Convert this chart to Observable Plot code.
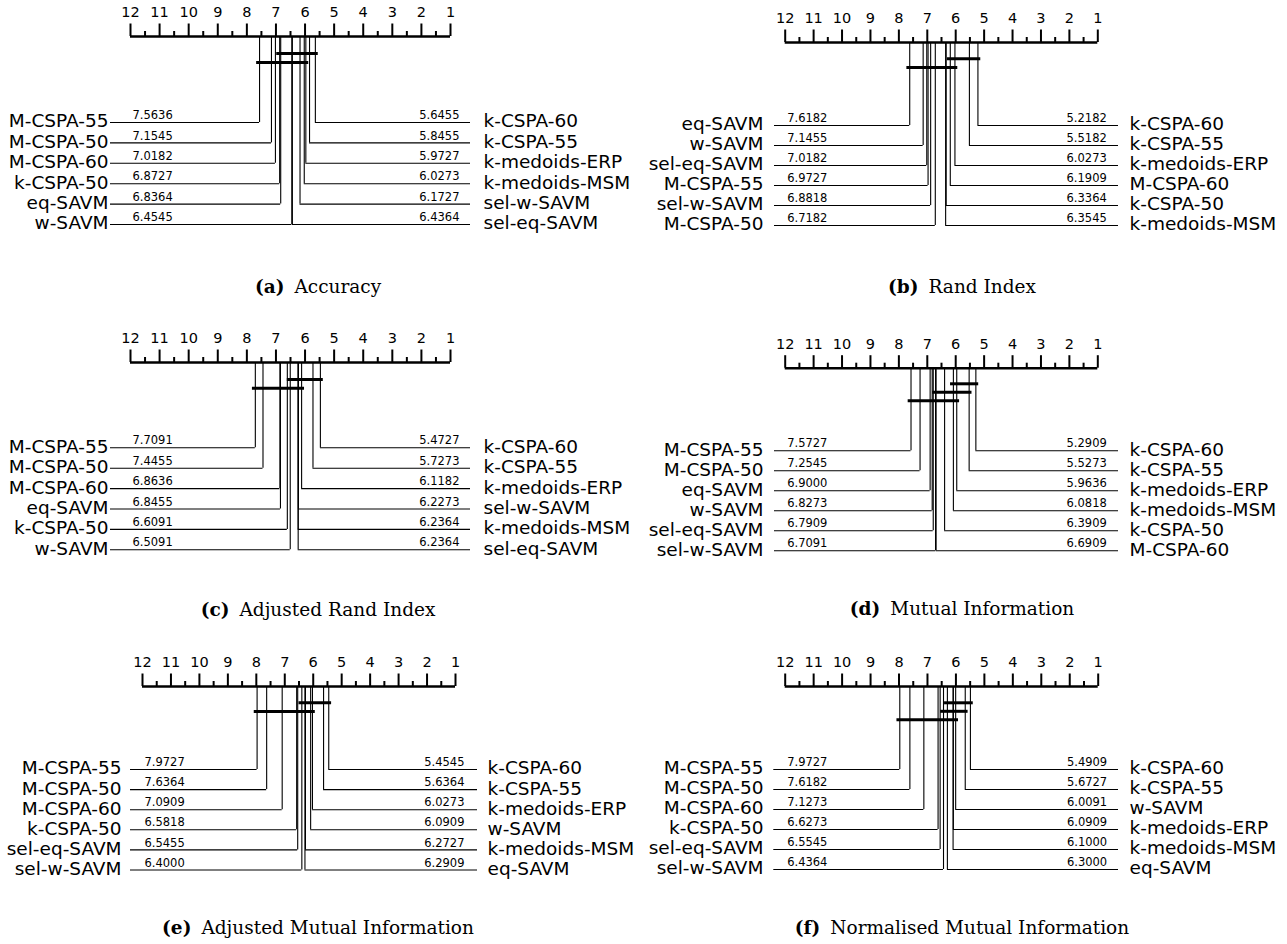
<!DOCTYPE html>
<html><head><meta charset="utf-8">
<script src="https://cdn.jsdelivr.net/npm/d3@7"></script>
<script src="https://cdn.jsdelivr.net/npm/@observablehq/plot@0.6"></script>
<style>
html,body{margin:0;padding:0;background:#fff}
body{width:1287px;height:944px;position:relative;overflow:hidden}
.panel{position:absolute;left:0;top:0}
.cap{position:absolute;font-family:"DejaVu Serif",serif;font-size:18.5px;line-height:22px;transform:translateX(-50%);white-space:nowrap;color:#000}
.cap b{font-weight:bold}
.cap span{margin-left:10px}
</style></head><body>
<script>
// Rank axis tick labels
const tickLabels = [12,11,10,9,8,7,6,5,4,3,2,1];

// (a) Accuracy
const accLeftNames  = ["M-CSPA-55","M-CSPA-50","M-CSPA-60","k-CSPA-50","eq-SAVM","w-SAVM"];
const accLeftRanks  = [7.5636,7.1545,7.0182,6.8727,6.8364,6.4545];
const accRightNames = ["k-CSPA-60","k-CSPA-55","k-medoids-ERP","k-medoids-MSM","sel-w-SAVM","sel-eq-SAVM"];
const accRightRanks = [5.6455,5.8455,5.9727,6.0273,6.1727,6.4364];
const accCliques    = [[5.6455,6.8727],[5.9727,7.5636]];

// (b) Rand Index
const riLeftNames  = ["eq-SAVM","w-SAVM","sel-eq-SAVM","M-CSPA-55","sel-w-SAVM","M-CSPA-50"];
const riLeftRanks  = [7.6182,7.1455,7.0182,6.9727,6.8818,6.7182];
const riRightNames = ["k-CSPA-60","k-CSPA-55","k-medoids-ERP","M-CSPA-60","k-CSPA-50","k-medoids-MSM"];
const riRightRanks = [5.2182,5.5182,6.0273,6.1909,6.3364,6.3545];
const riCliques    = [[5.2182,6.1909],[6.0273,7.6182]];

// (c) Adjusted Rand Index
const ariLeftNames  = ["M-CSPA-55","M-CSPA-50","M-CSPA-60","eq-SAVM","k-CSPA-50","w-SAVM"];
const ariLeftRanks  = [7.7091,7.4455,6.8636,6.8455,6.6091,6.5091];
const ariRightNames = ["k-CSPA-60","k-CSPA-55","k-medoids-ERP","sel-w-SAVM","k-medoids-MSM","sel-eq-SAVM"];
const ariRightRanks = [5.4727,5.7273,6.1182,6.2273,6.2364,6.2364];
const ariCliques    = [[5.4727,6.5091],[6.1182,7.7091]];

// (d) Mutual Information
const miLeftNames  = ["M-CSPA-55","M-CSPA-50","eq-SAVM","w-SAVM","sel-eq-SAVM","sel-w-SAVM"];
const miLeftRanks  = [7.5727,7.2545,6.9000,6.8273,6.7909,6.7091];
const miRightNames = ["k-CSPA-60","k-CSPA-55","k-medoids-ERP","k-medoids-MSM","k-CSPA-50","M-CSPA-60"];
const miRightRanks = [5.2909,5.5273,5.9636,6.0818,6.3909,6.6909];
const miCliques    = [[5.2909,6.0818],[5.5273,6.7091],[5.9636,7.5727]];

// (e) Adjusted Mutual Information
const amiLeftNames  = ["M-CSPA-55","M-CSPA-50","M-CSPA-60","k-CSPA-50","sel-eq-SAVM","sel-w-SAVM"];
const amiLeftRanks  = [7.9727,7.6364,7.0909,6.5818,6.5455,6.4000];
const amiRightNames = ["k-CSPA-60","k-CSPA-55","k-medoids-ERP","w-SAVM","k-medoids-MSM","eq-SAVM"];
const amiRightRanks = [5.4545,5.6364,6.0273,6.0909,6.2727,6.2909];
const amiCliques    = [[5.4545,6.4000],[6.0273,7.9727]];

// (f) Normalised Mutual Information
const nmiLeftNames  = ["M-CSPA-55","M-CSPA-50","M-CSPA-60","k-CSPA-50","sel-eq-SAVM","sel-w-SAVM"];
const nmiLeftRanks  = [7.9727,7.6182,7.1273,6.6273,6.5545,6.4364];
const nmiRightNames = ["k-CSPA-60","k-CSPA-55","w-SAVM","k-medoids-ERP","k-medoids-MSM","eq-SAVM"];
const nmiRightRanks = [5.4909,5.6727,6.0091,6.0909,6.1000,6.3000];
const nmiCliques    = [[5.4909,6.3000],[5.6727,6.4364],[6.0091,7.9727]];

const panels = [
  {tag:"(a)", title:"Accuracy", L:[accLeftNames,accLeftRanks], R:[accRightNames,accRightRanks], cliques:accCliques,
   x12:130, x1:450, axisY:36, rowY:122, rowStep:20.4, barY:53, barStep:9, lineL:110, lineR:470, nameL:108, nameR:483, capX:318, capY:287},
  {tag:"(b)", title:"Rand Index", L:[riLeftNames,riLeftRanks], R:[riRightNames,riRightRanks], cliques:riCliques,
   x12:784.7, x1:1097.3, axisY:42, rowY:125, rowStep:20, barY:58.3, barStep:8.7, lineL:774, lineR:1118, nameL:763, nameR:1129, capX:962, capY:287},
  {tag:"(c)", title:"Adjusted Rand Index", L:[ariLeftNames,ariLeftRanks], R:[ariRightNames,ariRightRanks], cliques:ariCliques,
   x12:130, x1:450, axisY:362, rowY:447.3, rowStep:20.4, barY:379, barStep:8.7, lineL:110, lineR:470, nameL:108, nameR:483, capX:318, capY:610},
  {tag:"(d)", title:"Mutual Information", L:[miLeftNames,miLeftRanks], R:[miRightNames,miRightRanks], cliques:miCliques,
   x12:784.7, x1:1097.3, axisY:367.7, rowY:450.3, rowStep:20, barY:383.3, barStep:8.5, lineL:774, lineR:1118, nameL:763, nameR:1129, capX:962, capY:609},
  {tag:"(e)", title:"Adjusted Mutual Information", L:[amiLeftNames,amiLeftRanks], R:[amiRightNames,amiRightRanks], cliques:amiCliques,
   x12:142, x1:455, axisY:686, rowY:769, rowStep:20.1, barY:702.3, barStep:8.7, lineL:130, lineR:477, nameL:121, nameR:487, capX:318, capY:928},
  {tag:"(f)", title:"Normalised Mutual Information", L:[nmiLeftNames,nmiLeftRanks], R:[nmiRightNames,nmiRightRanks], cliques:nmiCliques,
   x12:784.7, x1:1097.7, axisY:686, rowY:769, rowStep:20, barY:702.3, barStep:8.5, lineL:773.3, lineR:1118, nameL:763, nameR:1129, capX:962, capY:928}
];

const W = 1287, H = 944;
const minorTicks = tickLabels.slice(1).map(v => v + 0.5);

for (const p of panels) {
  const unit = (p.x1 - p.x12) / 11;
  const inv = px => 12 - (px - p.x12) / unit;
  const left = p.L[0].map((n, i) => ({name: n, rank: p.L[1][i], y: p.rowY + i * p.rowStep}));
  const right = p.R[0].map((n, i) => ({name: n, rank: p.R[1][i], y: p.rowY + i * p.rowStep}));
  const bars = p.cliques.map((c, i) => ({lo: c[0], hi: c[1], y: p.barY + i * p.barStep}));
  const ay = p.axisY;
  const chart = Plot.plot({
    width: W, height: H, margin: 0,
    style: {fontFamily: "DejaVu Sans", background: "transparent", color: "#000"},
    x: {domain: [12, 1], range: [p.x12, p.x1], axis: null},
    y: {domain: [0, H], range: [0, H], axis: null},
    marks: [
      Plot.ruleX(left, {x: "rank", y1: () => ay, y2: "y", stroke: "#000", strokeWidth: 1.1}),
      Plot.ruleX(right, {x: "rank", y1: () => ay, y2: "y", stroke: "#000", strokeWidth: 1.1}),
      Plot.ruleY(left, {y: "y", x1: () => inv(p.lineL), x2: "rank", stroke: "#000", strokeWidth: 1.1}),
      Plot.ruleY(right, {y: "y", x1: "rank", x2: () => inv(p.lineR), stroke: "#000", strokeWidth: 1.1}),
      Plot.ruleY([ay], {y: d => d, x1: () => 12, x2: () => 1, stroke: "#000", strokeWidth: 2.4}),
      Plot.ruleX(tickLabels, {x: d => d, y1: () => ay - 12.5, y2: () => ay, stroke: "#000", strokeWidth: 2}),
      Plot.ruleX(minorTicks, {x: d => d, y1: () => ay - 5, y2: () => ay, stroke: "#000", strokeWidth: 2}),
      Plot.text(tickLabels, {x: d => d, y: () => ay - 24, text: d => String(d), fontSize: 14.5}),
      Plot.ruleY(bars, {y: "y", x1: d => d.hi + 0.1, x2: d => d.lo - 0.1, stroke: "#000", strokeWidth: 3}),
      Plot.text(left, {x: () => 12, dx: 2, y: d => d.y - 7, text: d => d.rank.toFixed(4), textAnchor: "start", fontSize: 11.5}),
      Plot.text(right, {x: () => inv(p.x1 + 9), y: d => d.y - 7, text: d => d.rank.toFixed(4), textAnchor: "end", fontSize: 11.5}),
      Plot.text(left, {x: () => inv(p.nameL), y: d => d.y - 1, text: "name", textAnchor: "end", fontSize: 18.5}),
      Plot.text(right, {x: () => inv(p.nameR), y: d => d.y - 1, text: "name", textAnchor: "start", fontSize: 18.5})
    ]
  });
  chart.classList.add("panel");
  document.body.appendChild(chart);
  const cap = document.createElement("div");
  cap.className = "cap";
  cap.style.left = p.capX + "px";
  cap.style.top = (p.capY - 11) + "px";
  const b = document.createElement("b"); b.textContent = p.tag;
  const s = document.createElement("span"); s.textContent = p.title;
  cap.appendChild(b); cap.appendChild(s);
  document.body.appendChild(cap);
}
</script>
</body></html>
